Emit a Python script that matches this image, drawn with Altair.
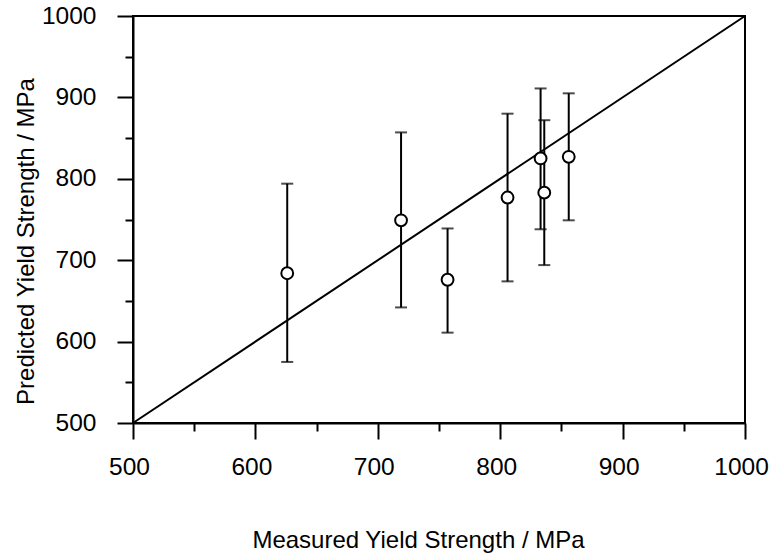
import altair as alt
import pandas as pd

# Data
measured = [626, 719, 757, 806, 833, 836, 856]
predicted = [684, 749, 676, 777, 825, 783, 827]
upper = [794, 857, 739, 880, 911, 872, 905]
lower = [575, 642, 611, 674, 738, 694, 749]

diag_x = [500, 1000]
diag_y = [500, 1000]

axis_values = [500, 550, 600, 650, 700, 750, 800, 850, 900, 950, 1000]

df = pd.DataFrame({"measured": measured, "predicted": predicted,
                   "upper": upper, "lower": lower})
diag = pd.DataFrame({"x": diag_x, "y": diag_y})

FONT = "Liberation Sans"
major_test = "datum.value % 100 === 0"
tick_size = {"condition": {"test": major_test, "value": 16}, "value": 8}

xscale = alt.Scale(domain=[500, 1000], nice=False, zero=False)
yscale = alt.Scale(domain=[500, 1000], nice=False, zero=False)

xaxis = alt.Axis(values=axis_values, format="d",
                 labelExpr=f"{major_test} ? datum.label : ''",
                 tickSize=tick_size, labelPadding=16, labelOffset=-4,
                 labelFlush=False, labelOverlap=False,
                 title="Measured Yield Strength / MPa", titleX=285, titleY=124.7,
                 titleBaseline="alphabetic", titleAlign="center")
yaxis = alt.Axis(values=axis_values, format="d",
                 labelExpr=f"{major_test} ? datum.label : ''",
                 tickSize=tick_size, labelPadding=21, labelFlush=False, labelOverlap=False,
                 title="Predicted Yield Strength / MPa", titleX=-100, titleY=225,
                 titleBaseline="alphabetic", titleAlign="center")

line = alt.Chart(diag).mark_line(color="black", strokeWidth=2).encode(
    x=alt.X("x:Q", scale=xscale, axis=xaxis),
    y=alt.Y("y:Q", scale=yscale, axis=yaxis),
)

bars = alt.Chart(df).mark_rule(color="black", strokeWidth=2).encode(
    x="measured:Q", y="lower:Q", y2="upper:Q"
)
cap_top = alt.Chart(df).mark_tick(color="black", orient="horizontal", size=12, thickness=2).encode(
    x="measured:Q", y="upper:Q"
)
cap_bot = alt.Chart(df).mark_tick(color="black", orient="horizontal", size=12, thickness=2).encode(
    x="measured:Q", y="lower:Q"
)
points = alt.Chart(df).mark_point(shape="circle", filled=True, fill="white", stroke="black",
                                  strokeWidth=2, size=140, opacity=1).encode(
    x="measured:Q", y="predicted:Q"
)

chart = alt.layer(line, bars, cap_top, cap_bot, points).properties(
    width=612, height=407,
    autosize=alt.AutoSizeParams(type="none"),
    padding={"left": 133, "top": 16, "right": 24, "bottom": 133},
    background="white",
).configure_view(
    stroke="black", strokeWidth=2
).configure_axis(
    grid=False, domainColor="black", domainWidth=2, tickColor="black", tickWidth=2,
    labelFont=FONT, labelFontSize=24.5, labelColor="black",
    titleFont=FONT, titleFontSize=24, titleFontWeight="normal", titleColor="black",
)

chart.save("out.html", embed_options={"renderer": "svg", "actions": False})
